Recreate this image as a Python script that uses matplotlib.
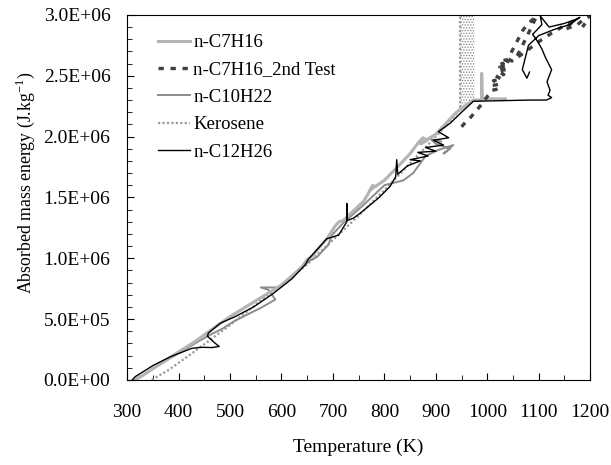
import matplotlib
matplotlib.use("Agg")
import matplotlib.pyplot as plt
from matplotlib.ticker import MultipleLocator, FormatStrFormatter

plt.rcParams["font.family"] = ["Liberation Serif", "DejaVu Serif"]
plt.rcParams["hatch.linewidth"] = 0.7

# n-C7H16 (light grey)
c7_T = [315, 330, 360, 400, 430, 460, 500, 550, 600, 640, 650, 660, 690, 705, 712, 720, 760,
        778, 772, 800, 830, 850, 866, 875, 883, 870, 900, 940, 973, 989, 989, 990, 1035]
c7_E = [0, 3.5e4, 1.2e5, 2.3e5, 3.1e5, 4.0e5, 5.2e5, 6.5e5, 7.8e5, 9.3e5, 9.9e5, 1.02e6, 1.17e6,
        1.27e6, 1.30e6, 1.31e6, 1.47e6, 1.60e6, 1.56e6, 1.64e6, 1.77e6, 1.86e6, 1.95e6, 1.99e6,
        1.97e6, 1.94e6, 2.02e6, 2.20e6, 2.30e6, 2.30e6, 2.52e6, 2.31e6, 2.31e6]

# n-C7H16_2nd Test (dark grey dashed)
c7b_T = [950, 958, 966, 976, 990, 1000, 1009, 1020, 1010, 1024, 1012, 1028, 1016, 1032, 1020,
         1036, 1024, 1040, 1028, 1044, 1034, 1048, 1040, 1050, 1060, 1070, 1085, 1096, 1080,
         1065, 1055, 1075, 1100, 1125, 1145, 1160, 1170, 1150, 1175, 1190, 1200, 1185]
c7b_E = [2.08e6, 2.12e6, 2.15e6, 2.20e6, 2.27e6, 2.33e6, 2.38e6, 2.39e6, 2.42e6, 2.43e6, 2.46e6,
         2.47e6, 2.50e6, 2.51e6, 2.54e6, 2.55e6, 2.57e6, 2.58e6, 2.60e6, 2.61e6, 2.63e6, 2.62e6,
         2.64e6, 2.72e6, 2.80e6, 2.88e6, 2.95e6, 2.99e6, 2.85e6, 2.72e6, 2.64e6, 2.70e6, 2.78e6,
         2.85e6, 2.90e6, 2.93e6, 2.96e6, 2.88e6, 2.92e6, 2.97e6, 2.99e6, 2.90e6]

# n-C10H22 (mid grey)
c10_T = [315, 350, 400, 440, 461, 485, 507, 535, 559, 588, 575, 560, 597, 630, 655, 669, 691,
         698, 720, 760, 800, 837, 856, 880, 905, 934, 915, 928, 900, 890, 910]
c10_E = [0, 9e4, 2.2e5, 3.2e5, 3.7e5, 4.2e5, 4.8e5, 5.4e5, 5.9e5, 6.6e5, 7.4e5, 7.6e5, 7.6e5,
         8.9e5, 9.8e5, 1.01e6, 1.11e6, 1.19e6, 1.29e6, 1.44e6, 1.60e6, 1.64e6, 1.70e6, 1.84e6,
         1.89e6, 1.93e6, 1.86e6, 1.90e6, 1.94e6, 1.98e6, 1.96e6]

# Kerosene (stippled)
ker_T = [348, 380, 420, 465, 500, 550, 600, 650, 700, 750, 800, 850, 900, 930, 947, 947]
ker_E = [0, 8e4, 2.0e5, 3.4e5, 4.5e5, 6.2e5, 7.8e5, 9.5e5, 1.15e6, 1.35e6, 1.56e6, 1.78e6,
         2.0e6, 2.14e6, 2.22e6, 3.0e6]
ker_band_E = [2.22e6, 2.30e6, 3.0e6]
ker_band_left = [947, 947, 947]
ker_band_right = [947, 975, 975]

# n-C12H26 (black)
c12_T = [310, 316, 351, 384, 426, 445, 465, 479, 470, 456, 458, 481, 510, 546, 584, 620, 646,
         652, 688, 711, 727, 727, 728, 740, 753, 790, 811, 822, 824, 826, 845, 870, 850, 885, 865,
         900, 880, 915, 895, 925, 905, 928, 950, 973, 1083, 1115, 1125, 1118, 1122, 1116, 1125,
         1113, 1106, 1098, 1088, 1095, 1106, 1103, 1120, 1150, 1170, 1180, 1160, 1130, 1100,
         1080, 1068, 1077, 1082]
c12_E = [0, 2.7e4, 1.2e5, 1.9e5, 2.6e5, 2.68e5, 2.66e5, 2.75e5, 3.05e5, 3.6e5, 3.85e5, 4.66e5,
         5.2e5, 6.0e5, 7.1e5, 8.3e5, 9.45e5, 9.9e5, 1.16e6, 1.19e6, 1.30e6, 1.45e6, 1.31e6,
         1.33e6, 1.37e6, 1.50e6, 1.59e6, 1.67e6, 1.81e6, 1.69e6, 1.76e6, 1.80e6, 1.81e6, 1.84e6,
         1.87e6, 1.88e6, 1.91e6, 1.93e6, 1.97e6, 1.99e6, 2.04e6, 2.11e6, 2.20e6, 2.29e6, 2.30e6,
         2.30e6, 2.32e6, 2.34e6, 2.38e6, 2.45e6, 2.55e6, 2.65e6, 2.72e6, 2.78e6, 2.84e6, 2.87e6,
         2.92e6, 2.99e6, 2.90e6, 2.93e6, 2.96e6, 2.98e6, 2.92e6, 2.88e6, 2.83e6, 2.75e6, 2.55e6,
         2.48e6, 2.53e6]

fig = plt.figure(figsize=(6.11, 4.65), dpi=100)
ax = fig.add_axes([0.208, 0.183, 0.758, 0.785])

ax.fill_betweenx(ker_band_E, ker_band_left, ker_band_right, facecolor="white",
                 edgecolor="#8c8c8c", hatch="......", linewidth=0)
ax.plot(ker_T, ker_E, color="#9a9a9a", lw=1.6, ls=(0, (1, 1)), label="Kerosene")
ax.plot(c10_T, c10_E, color="#8c8c8c", lw=1.4, label="n-C10H22")
ax.plot(c7_T, c7_E, color="#b4b4b4", lw=2.2, label="n-C7H16")
ax.plot(c7b_T, c7b_E, color="#404040", lw=2.4, ls=(0, (1.6, 2.0)), label="n-C7H16_2nd Test")
ax.plot(c12_T, c12_E, color="black", lw=1.0, label="n-C12H26")

ax.set_xlim(300, 1200)
ax.set_ylim(0, 3.0e6)
ax.xaxis.set_major_locator(MultipleLocator(100))
ax.xaxis.set_minor_locator(MultipleLocator(50))
ax.yaxis.set_major_locator(MultipleLocator(5e5))
ax.yaxis.set_minor_locator(MultipleLocator(1e5))
ax.yaxis.set_major_formatter(FormatStrFormatter("%.1E"))
ax.tick_params(which="both", direction="in", labelsize=14)
ax.tick_params(which="major", length=5)
ax.tick_params(which="minor", length=3.5)
ax.tick_params(axis="x", pad=17)
ax.tick_params(axis="y", pad=12)

ax.set_xlabel("Temperature (K)", fontsize=14, labelpad=13)
ax.set_ylabel(r"Absorbed mass energy (J.kg$^{\mathregular{-1}}$)", fontsize=12.8)
ax.yaxis.set_label_coords(-0.195, 0.54)

handles, labels = ax.get_legend_handles_labels()
order = ["n-C7H16", "n-C7H16_2nd Test", "n-C10H22", "Kerosene", "n-C12H26"]
hmap = dict(zip(labels, handles))
ax.legend([hmap[k] for k in order], order, loc="upper left", bbox_to_anchor=(0.05, 0.968),
          frameon=False, fontsize=13.5, handlelength=1.7, handletextpad=0.2, labelspacing=0.55,
          borderaxespad=0)

fig.savefig("out.png", dpi=100)
plt.close(fig)
